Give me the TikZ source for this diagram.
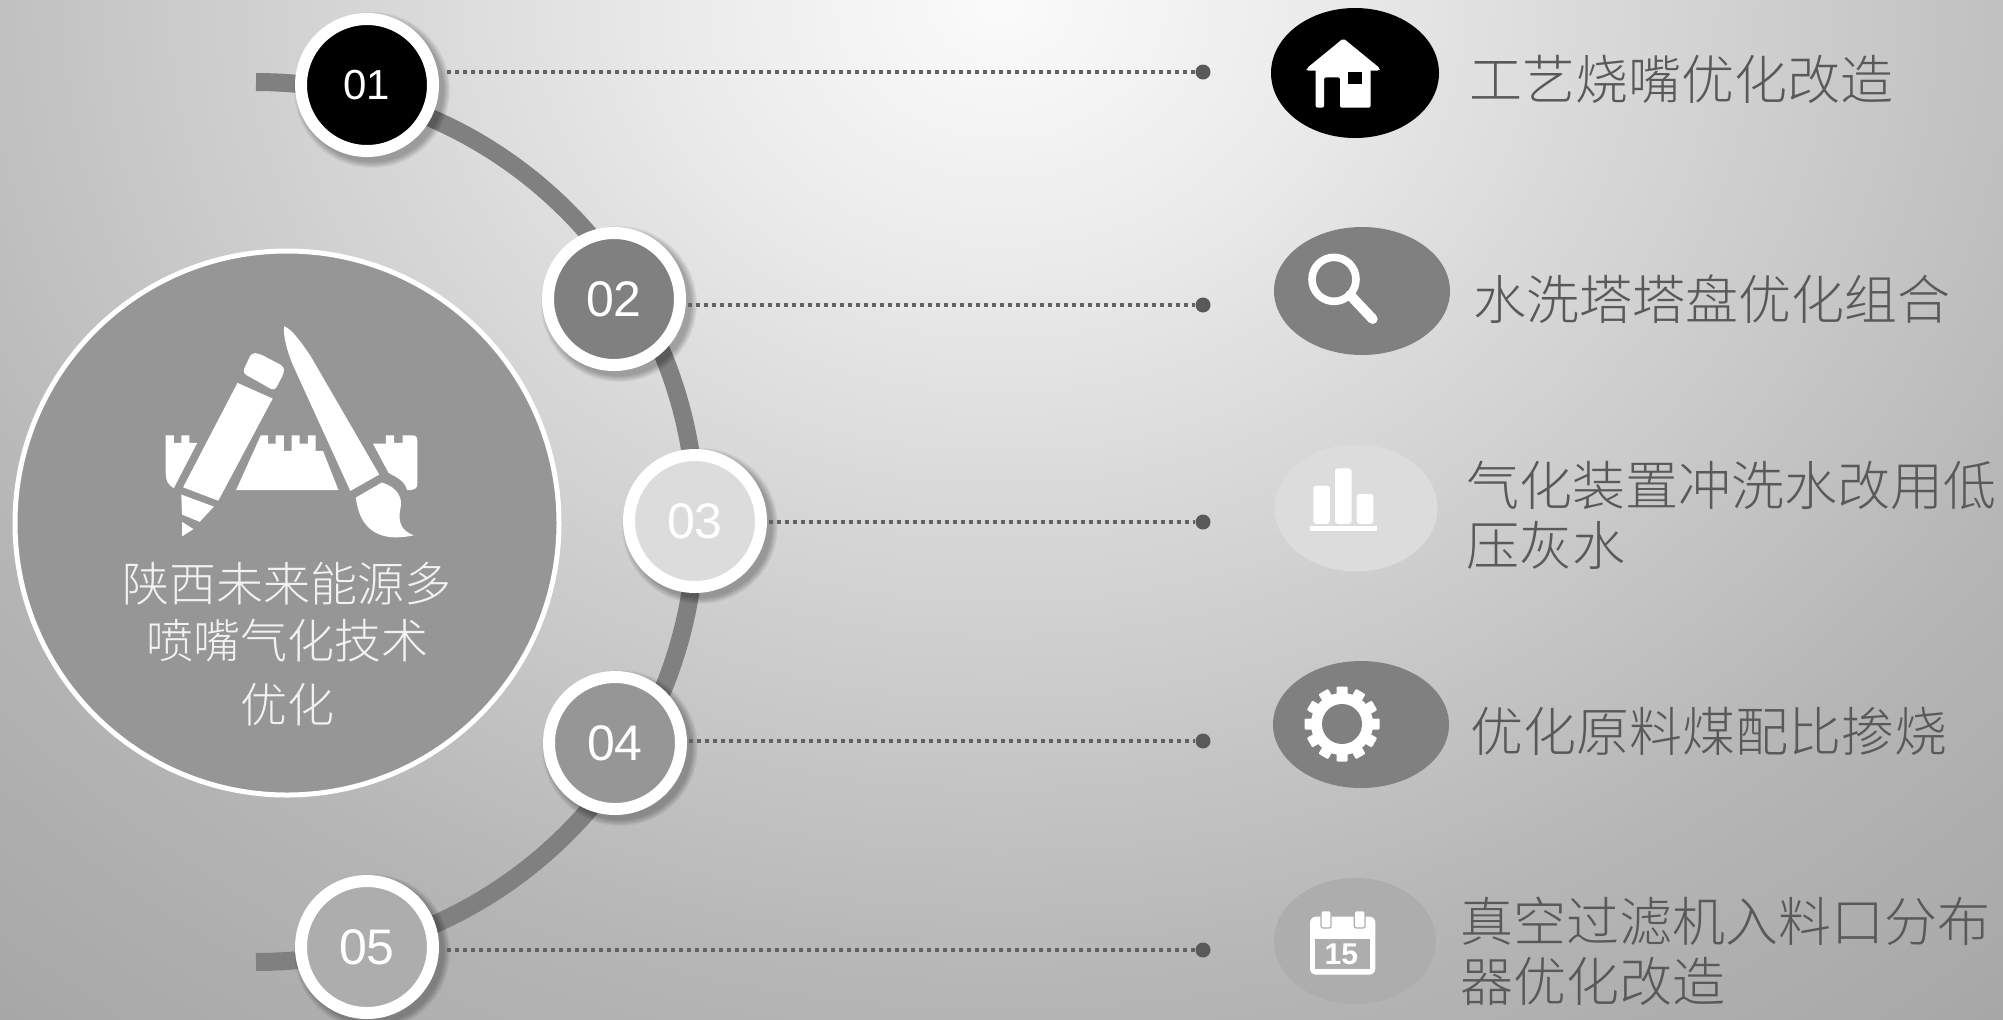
\documentclass[tikz,border=0pt]{standalone}
\usepackage{fontspec}
\setmainfont{Liberation Sans}
\newfontfamily\cjk{Noto Sans CJK SC Light}
\definecolor{bga}{HTML}{FBFBFB}
\definecolor{bgm}{HTML}{ECECEC}
\definecolor{bgb}{HTML}{D9D9D9}
\definecolor{bgc}{HTML}{B5B5B5}
\definecolor{bgd}{HTML}{A2A2A2}
\definecolor{arcgray}{HTML}{808080}
\definecolor{dotgray}{HTML}{595959}
\definecolor{linegray}{HTML}{626262}
\definecolor{bigfill}{HTML}{969696}
\definecolor{paleball}{HTML}{DCDCDC}
\definecolor{calfill}{HTML}{ADADAD}
\pgfdeclareradialshading{bgshade}{\pgfpoint{0bp}{0bp}}{color(0bp)=(bga); color(4.375bp)=(bgm); color(8.75bp)=(bgb); color(17.5bp)=(bgc); color(25bp)=(bgd); color(50bp)=(bgd)}
\tikzset{
  ball/.style={circle,draw=white,line width=6pt,minimum size=66pt,inner sep=0pt,text=white},
  numa/.style={font=\fontsize{21}{24}\selectfont},
  numb/.style={font=\fontsize{25}{28}\selectfont},
  enddot/.style={circle,fill=dotgray,minimum size=7.5pt,inner sep=0pt},
  dotline/.style={draw=linegray,line width=1.7pt,dash pattern=on 2pt off 2pt},
  lab/.style={anchor=west,inner sep=0pt,text=dotgray,align=left,font=\cjk\fontsize{26.5}{30}\selectfont},
  icon/.style={fill=white,draw=none}
}
\newcommand{\softshadow}[1]{%
  \foreach \rr in {36,36.5,...,39}{\fill[black,opacity=.045] (#1) ++(5,5) circle[radius=\rr pt];}}
\begin{document}
\begin{tikzpicture}[x=.5pt,y=-.5pt]
\useasboundingbox (0,0) rectangle (2003,1019);
\begin{scope}
\clip (0,0) rectangle (2003,1019);
\shade[shading=bgshade] (1000,0) ellipse[x radius=850pt,y radius=715pt];
\end{scope}
% big circle
\node[circle,fill=bigfill,draw=white,line width=2.5pt,minimum size=272pt,inner sep=0pt] (big) at (287,523) {};
% arc
\coordinate (arcstart) at (256,82);
\draw[arcgray,line width=9pt] (arcstart) arc[start angle=90,end angle=-90,radius=220pt];
% balls
\coordinate (p1) at (367,85);
\coordinate (p2) at (614,299);
\coordinate (p3) at (695,521);
\coordinate (p4) at (615,743);
\coordinate (p5) at (367,947);
\softshadow{p1}\softshadow{p2}\softshadow{p3}\softshadow{p4}\softshadow{p5}
\node[ball,fill=black,numa] (c1) at (p1) {01};
\node[ball,fill=arcgray,numb] (c2) at (p2) {02};
\node[ball,fill=paleball,numb] (c3) at (p3) {03};
\node[ball,fill=bigfill,numb] (c4) at (p4) {04};
\node[ball,fill=calfill,numb] (c5) at (p5) {05};
% dots and lines
\node[enddot] (d1) at (1203,72) {};
\node[enddot] (d2) at (1203,305) {};
\node[enddot] (d3) at (1203,522) {};
\node[enddot] (d4) at (1203,741) {};
\node[enddot] (d5) at (1203,950) {};
\draw[dotline] ([xshift=4pt]c1.east |- d1) -- (d1);
\draw[dotline] ([xshift=.8pt]c2.east |- d2) -- (d2);
\draw[dotline] ([xshift=1pt]c3.east |- d3) -- (d3);
\draw[dotline] ([xshift=.8pt]c4.east |- d4) -- (d4);
\draw[dotline] ([xshift=4pt]c5.east |- d5) -- (d5);
% icon discs
\fill[black] (1355,73) ellipse[x radius=42pt,y radius=32.5pt];
\fill[arcgray] (1362,291) ellipse[x radius=44pt,y radius=32pt];
\fill[paleball] (1356,508) ellipse[x radius=40.75pt,y radius=31.75pt];
\fill[arcgray] (1361,724.5) ellipse[x radius=44pt,y radius=31.75pt];
\fill[calfill] (1355,941) ellipse[x radius=40.5pt,y radius=31.5pt];
% house
\begin{scope}[shift={(1250,0)},scale=1/3]
\fill[icon,rounded corners=1pt] (280,115) -- (390,205) -- (388,212) -- (170,212) -- (170,205) -- cycle;
\fill[icon,rounded corners=1pt] (197,205) -- (197,323) -- (222,323) -- (222,232) -- (270,232) -- (270,323) -- (362,323) -- (362,205) -- cycle;
\fill[black] (295,217) rectangle (337,253);
% magnifier
\draw[white,line width=3.8pt] (252,838) circle[radius=33pt];
\draw[white,line width=5pt,line cap=round] (300,885) -- (368,957);
\end{scope}
% bar chart
\begin{scope}[shift={(1250,430)},xscale=1/3,yscale=1/2.662]
\fill[icon,rounded corners=1.5pt] (190,250) -- (190,148) -- (240,148) -- (240,250) -- cycle;
\fill[icon,rounded corners=1.5pt] (255,250) -- (255,102) -- (305,102) -- (305,250) -- cycle;
\fill[icon,rounded corners=1.5pt] (320,250) -- (320,170) -- (370,170) -- (370,250) -- cycle;
\fill[icon] (180,255) rectangle (382,268);
\end{scope}
% gear
\begin{scope}[shift={(1342,724)}]
\foreach \a in {0,30,...,330}{\fill[icon,rotate=\a,rounded corners=.5pt] (-5.5,-37.5) rectangle (5.5,-24);}
\fill[icon] (0,0) circle[radius=15.5pt];
\fill[arcgray] (0,0) circle[radius=10pt];
\end{scope}
% calendar
\begin{scope}[shift={(1240,860)},scale=1/3]
\fill[icon,rounded corners=3pt] (210,170) rectangle (406,344);
\fill[calfill] (226,236) rectangle (390,328);
\fill[icon,rounded corners=1pt,draw=calfill,line width=.6pt] (243,152) rectangle (273,204);
\fill[icon,rounded corners=1pt,draw=calfill,line width=.6pt] (343,152) rectangle (375,204);
\node[inner sep=0pt,text=white,font=\bfseries\fontsize{15}{17}\selectfont] (calnum) at (304,282) {15};
\end{scope}
% app icon
\begin{scope}[shift={(0,240)},xscale=1/2.703,yscale=1/2.75]
\fill[icon,rounded corners=2pt] (655,365) -- (680,310) -- (700,312) -- (768,348) -- (768,365) -- (742,415) -- cycle;
\fill[icon] (642,393) -- (737,436) -- (590,717) -- (495,680) -- cycle;
\fill[icon] (490,700) -- (578,733) -- (540,775) -- (492,755) -- cycle;
\fill[icon] (492,775) -- (523,795) -- (492,815) -- cycle;
\fill[icon] (768,237) .. controls (790,245) and (820,290) .. (840,320) -- (1025,645) -- (947,690) -- (790,340) .. controls (775,300) and (765,265) .. (768,237) -- cycle;
\fill[icon] (962,708) -- (1032,667) .. controls (1075,680) and (1090,710) .. (1082,740) .. controls (1075,775) and (1085,800) .. (1118,812) .. controls (1060,825) and (975,825) .. (962,708) -- cycle;
\fill[icon] (448,537) -- (470,537) -- (470,558) -- (490,558) -- (490,537) -- (512,537) -- (512,558) -- (533,558) -- (470,682) .. controls (452,672) and (448,660) .. (448,640) -- cycle;
\fill[icon] (638,688) -- (705,537) -- (725,537) -- (725,560) -- (745,560) -- (745,537) -- (767,537) -- (767,580) -- (788,580) -- (788,537) -- (810,537) -- (810,560) -- (832,560) -- (832,537) -- (853,537) -- (853,580) -- (873,580) -- (915,688) -- cycle;
\fill[icon] (1008,560) -- (1043,560) -- (1043,537) -- (1065,537) -- (1065,558) -- (1088,558) -- (1088,537) -- (1115,537) .. controls (1124,537) and (1128,543) .. (1128,552) -- (1128,672) .. controls (1128,682) and (1122,688) .. (1100,688) .. controls (1095,660) and (1065,650) .. (1050,640) -- cycle;
\end{scope}
% text
\node[inner sep=0pt,text=white!95!black,align=center,font=\cjk\fontsize{23.5}{28.5}\selectfont] (title) at (287,644.5) {陕西未来能源多\\喷嘴气化技术\\[3.5pt]优化};
\node[lab] (t1) at (1469,79) {工艺烧嘴优化改造};
\node[lab] (t2) at (1473,299) {水洗塔塔盘优化组合};
\node[lab] (t3) at (1466,515) {气化装置冲洗水改用低\\压灰水};
\node[lab] (t4) at (1470,731) {优化原料煤配比掺烧};
\node[lab] (t5) at (1460,951) {真空过滤机入料口分布\\器优化改造};
\end{tikzpicture}
\end{document}
